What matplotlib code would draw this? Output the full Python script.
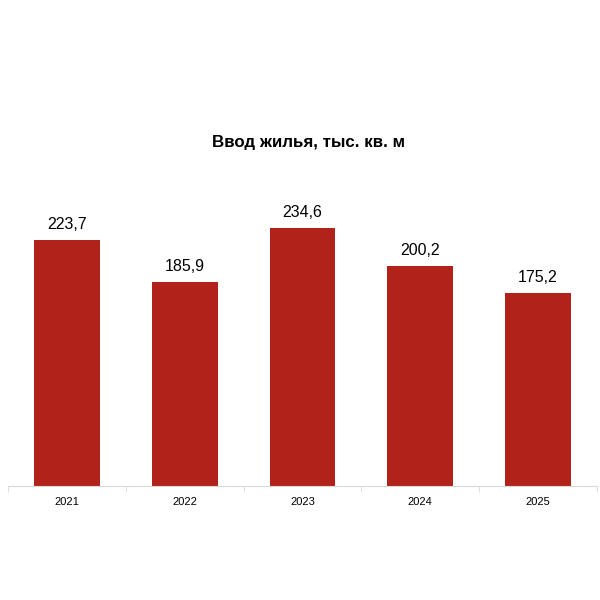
import matplotlib
matplotlib.use("Agg")
import matplotlib.pyplot as plt
import numpy as np

years = ["2021", "2022", "2023", "2024", "2025"]
values = [223.7, 185.9, 234.6, 200.2, 175.2]
labels = ["223,7", "185,9", "234,6", "200,2", "175,2"]
title = "Ввод жилья, тыс. кв. м"

plt.rcParams['font.family'] = ['Liberation Sans', 'DejaVu Sans']

fig = plt.figure(figsize=(6, 6), dpi=100)
ax = fig.add_axes([8/600, 1 - 486/600, 589/600, 308/600])
x = np.arange(len(years))
bars = ax.bar(x, values, width=0.56, color="#b0221a")
ax.set_xlim(-0.5, len(years) - 0.5)
ax.set_ylim(0, 280)
for xi, v, lab in zip(x, values, labels):
    ax.text(xi, v + 10, lab, ha="center", va="baseline", fontsize=11.5, color="#000000")

for s in ["top", "right", "left"]:
    ax.spines[s].set_visible(False)
ax.spines["bottom"].set_color("#d9d9d9")
ax.set_yticks([])
ax.set_xticks(x)
ax.set_xticklabels(years, fontsize=8)
ax.tick_params(axis="x", length=0, pad=8)
ax.set_xticks(np.arange(-0.5, len(years)), minor=True)
ax.tick_params(axis="x", which="minor", length=4, color="#d9d9d9")

fig.text(309/600, 1 - 143/600, title, ha="center", va="center", fontsize=12.2, fontweight="bold")

fig.savefig("out.png", dpi=100)
